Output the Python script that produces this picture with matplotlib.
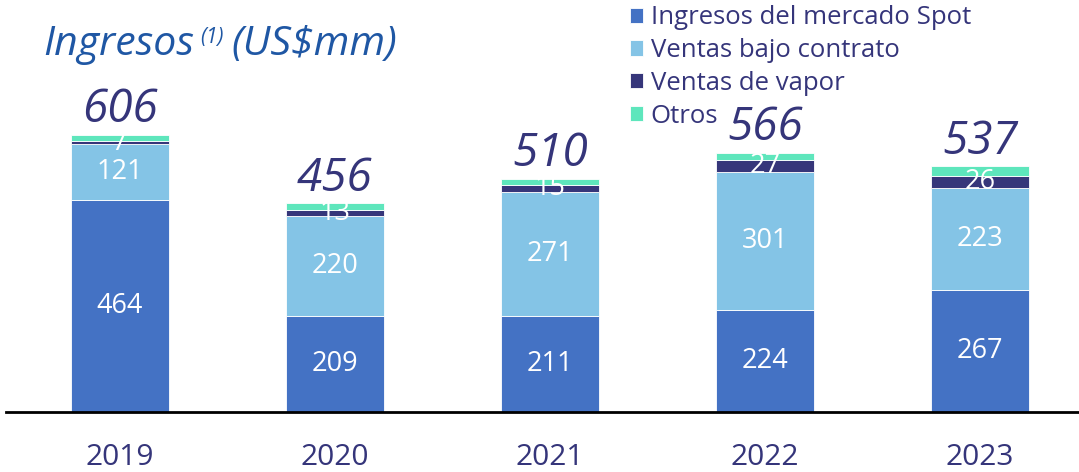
#!/usr/bin/env python3

'''
Ingresos (US$mm) stacked bars 2019-2023
'''

import matplotlib.pyplot as plt
import numpy as np

years = ['2019', '2020', '2021', '2022', '2023']
spot = [464, 209, 211, 224, 267]
contrato = [121, 220, 271, 301, 223]
vapor = [7, 13, 15, 27, 26]
otros = [14, 14, 13, 14, 21]
totals = [606, 456, 510, 566, 537]

series_names = ['Ingresos del mercado Spot', 'Ventas bajo contrato',
                'Ventas de vapor', 'Otros']
colors = ['#4472c4', '#84c4e6', '#36367a', '#5ee6bc']
navy = '#35357a'
font = 'Open Sans'

fig = plt.figure(figsize=(10.79, 4.72), dpi=100)
ax = fig.add_axes([6 / 1079, 60 / 472, 1073 / 1079, 412 / 472])

x = np.arange(len(years))
width = 0.456
bottom = np.zeros(len(years))
for vals, name, col in zip([spot, contrato, vapor, otros], series_names, colors):
    vals = np.array(vals, dtype=float)
    ax.bar(x, vals, width, bottom=bottom, color=col, label=name,
           edgecolor='white', linewidth=0.6)
    if name != 'Otros':
        for xi, b, v in zip(x, bottom, vals):
            ax.text(xi, b + v / 2, f'{int(v)}', ha='center', va='center',
                    color='white', fontsize=19.5, family=font)
    bottom += vals

for xi, b, t in zip(x, bottom, totals):
    ax.text(xi, b + 4, f'{t}', ha='center', va='bottom', color=navy,
            fontsize=33, style='italic', family=font)

ax.set_xlim(-0.53, 4.46)
ax.set_ylim(0, 901)
ax.set_xticks(x)
ax.set_xticklabels(years, fontsize=21.5, color=navy, family=font)
ax.tick_params(axis='x', length=0, pad=22)
ax.set_yticks([])
for s in ['top', 'right', 'left']:
    ax.spines[s].set_visible(False)
ax.spines['bottom'].set_linewidth(2)
ax.spines['bottom'].set_color('black')

leg = ax.legend(loc='upper left', bbox_to_anchor=(601 / 1073, 1.043),
                frameon=False, handlelength=0.5, handleheight=0.55,
                handletextpad=0.3, labelspacing=0.3,
                prop={'family': font, 'size': 18.5})
for t in leg.get_texts():
    t.set_color(navy)

# title, pieces placed one after another
title_col = '#1f57a4'
renderer = fig.canvas.get_renderer()
t1 = fig.text(43 / 1079, 1 - 45 / 472, 'Ingresos', fontsize=29.5,
              style='italic', color=title_col, family=font, va='center')
x1 = t1.get_window_extent(renderer).x1
t2 = fig.text((x1 + 6) / 1079, 1 - 37 / 472, '(1)', fontsize=15,
              style='italic', color=title_col, family=font, va='center')
x2 = t2.get_window_extent(renderer).x1
fig.text((x2 + 8) / 1079, 1 - 45 / 472, '(US$mm)', fontsize=29.5,
         style='italic', color=title_col, family=font, va='center')

fig.savefig('out.png', dpi=100)
